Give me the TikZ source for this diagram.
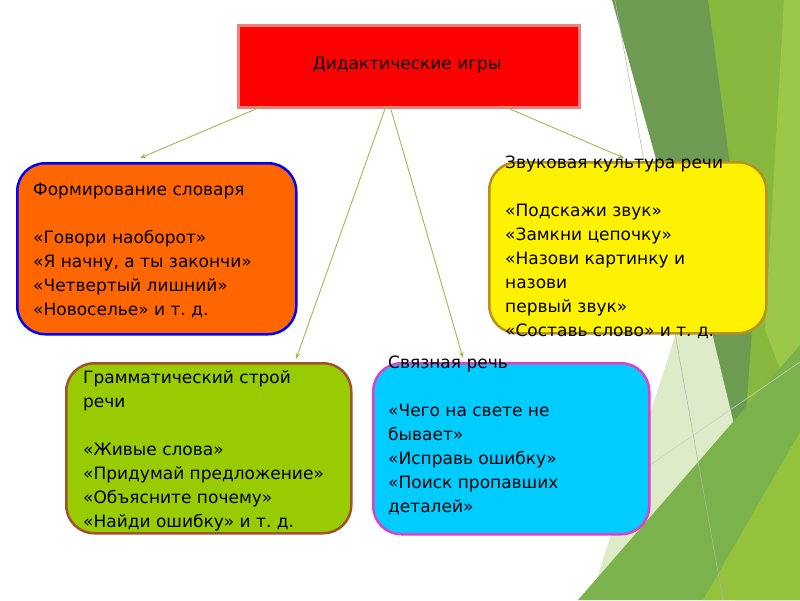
\documentclass[tikz,border=0pt]{standalone}
\usepackage{fontspec}
\setmainfont{DejaVu Sans}
\usetikzlibrary{arrows.meta}
\definecolor{bgmid}{HTML}{86B83E}
\definecolor{bglight}{HTML}{9CC84A}
\definecolor{bgdark}{HTML}{6E9B52}
\definecolor{bgpale}{HTML}{DDEBC8}
\definecolor{bgbottom}{HTML}{7BB24B}
\definecolor{bglime}{HTML}{95C23D}
\definecolor{conn}{HTML}{9BBB59}
\definecolor{topborder}{HTML}{F08080}
\definecolor{orangefill}{HTML}{FF6600}
\definecolor{yellowborder}{HTML}{B8901E}
\definecolor{greenfill}{HTML}{99CC00}
\definecolor{greenborder}{HTML}{A0522D}
\definecolor{cyanfill}{HTML}{00CCFF}
\definecolor{cyanborder}{HTML}{E040C8}
\begin{document}
\begin{tikzpicture}[x=1pt,y=-1pt,
  card/.style={rounded corners=28pt, line width=2.5pt, anchor=north west, inner sep=0pt},
  cardtext/.style={anchor=base west, align=left, inner sep=0pt, font=\fontsize{17}{24}\selectfont},
  connector/.style={draw=conn, line width=0.9pt, -{Stealth[length=6pt,width=4.5pt]}}]
\useasboundingbox (0,0) rectangle (800,600);
\fill[white] (0,0) rectangle (800,600);
% background decoration
\fill[bgmid] (705,0) -- (800,0) -- (800,600) -- (735,600) -- (745,470) -- cycle;
\fill[bglight] (784,0) -- (800,0) -- (800,420) -- (765,330) -- cycle;
\fill[bgdark] (612,0) -- (708,0) -- (752,330) -- (742,470) -- cycle;
\fill[bgpale] (676,333) -- (712,333) -- (745,470) -- (590,600) -- cycle;
\fill[bgbottom] (578,600) -- (800,345) -- (800,600) -- cycle;
\fill[bglime] (703,600) -- (800,432) -- (800,600) -- cycle;
\draw[gray!60, line width=0.5pt] (615,0) -- (723,600);
\draw[gray!40, line width=0.5pt] (647,467) -- (800,362);
% boxes
\node[draw=topborder, fill=red, line width=2.5pt, anchor=north west, minimum width=341pt, minimum height=82pt, inner sep=0pt] (top) at (237,24) {};
\node[font=\fontsize{17}{24}\selectfont] (toptext) at (407,65) {Дидактические игры};
\node[card, draw=blue, fill=orangefill, minimum width=279pt, minimum height=171pt] (vocab) at (16,162) {};
\node[card, draw=yellowborder, fill=yellow, minimum width=277pt, minimum height=171pt] (sound) at (488,161) {};
\node[card, draw=greenborder, fill=greenfill, minimum width=285pt, minimum height=170pt] (gram) at (65,362) {};
\node[card, draw=cyanborder, fill=cyanfill, minimum width=276pt, minimum height=171pt] (speech) at (372,362) {};
% texts (anchor = baseline of last line)
\node[cardtext] (vocabtext) at (33,315) {Формирование словаря\\~\\«Говори наоборот»\\«Я начну, а ты закончи»\\«Четвертый лишний»\\«Новоселье» и т.~д.};
\node[cardtext] (soundtext) at (505,336) {Звуковая культура речи\\~\\«Подскажи звук»\\«Замкни цепочку»\\«Назови картинку и\\назови\\первый звук»\\«Составь слово» и т.~д.};
\node[cardtext] (gramtext) at (83,527) {Грамматический строй\\речи\\~\\«Живые слова»\\«Придумай предложение»\\«Объясните почему»\\«Найди ошибку» и т.~д.};
\node[cardtext] (speechtext) at (388,512) {Связная речь\\~\\«Чего на свете не\\бывает»\\«Исправь ошибку»\\«Поиск пропавших\\деталей»};
% connectors
\coordinate (s1) at (263,106);
\coordinate (e1) at (140,158);
\coordinate (s2) at (386,106);
\coordinate (e2) at (296,359);
\coordinate (s3) at (390,106);
\coordinate (e3) at (463,358);
\coordinate (s4) at (503,106);
\coordinate (e4) at (624,158);
\draw[connector] (s1) -- (e1);
\draw[connector] (s2) -- (e2);
\draw[connector] (s3) -- (e3);
\draw[connector] (s4) -- (e4);
\end{tikzpicture}
\end{document}
